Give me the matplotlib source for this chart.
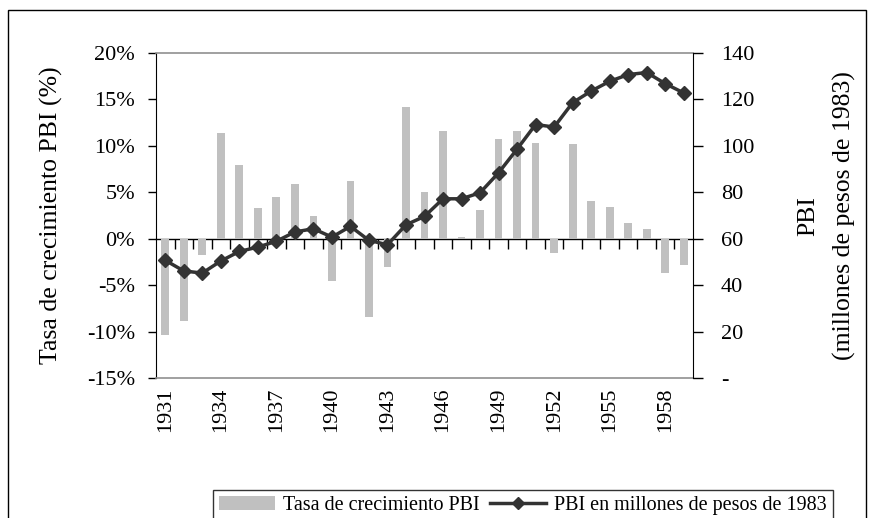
import matplotlib
matplotlib.use("Agg")
import matplotlib.pyplot as plt
from matplotlib.patches import Rectangle
from matplotlib.lines import Line2D
from matplotlib.patches import Patch

plt.rcParams['font.family'] = ['Liberation Serif', 'DejaVu Serif']

# Data
years = list(range(1931, 1960))
growth = [-10.4, -8.9, -1.8, 11.4, 7.9, 3.3, 4.45, 5.85, 2.4, -4.55,
          6.2, -8.45, -3.05, 14.15, 5.0, 11.55, 0.2, 3.05, 10.7, 11.55,
          10.3, -1.55, 10.2, 4.1, 3.4, 1.65, 1.0, -3.7, -2.85]
pbi = [50.7, 46.1, 45.2, 50.4, 54.5, 56.4, 58.9, 62.9, 64.3, 60.7,
       65.3, 59.3, 57.4, 66.0, 69.6, 77.2, 77.2, 79.8, 88.4, 98.6,
       109.2, 108.1, 118.6, 123.6, 127.8, 130.7, 131.6, 126.8, 122.8]
year_labels = years[::3]
left_ticks = [-15, -10, -5, 0, 5, 10, 15, 20]
right_ticks = [0, 20, 40, 60, 80, 100, 120, 140]

fig = plt.figure(figsize=(8.75, 5.18), dpi=100)
ax = fig.add_axes([156 / 875, 1 - 378 / 518, 537 / 875, 325 / 518])
ax.bar(years, growth, width=0.42, color='#C0C0C0', zorder=2)
ax.set_xlim(years[0] - 0.5, years[-1] + 0.5)
ax.set_ylim(-15, 20)
ax.set_yticks(left_ticks)
ax.set_yticklabels([f"{v}%" for v in left_ticks], fontsize=16)
ax.tick_params(axis='y', direction='out', length=6, width=1, pad=9)
ax.set_xticks(year_labels)
ax.set_xticklabels([str(y) for y in year_labels], rotation=90, fontsize=16)
ax.tick_params(axis='x', length=0, pad=7)
ax.set_ylabel("Tasa de crecimiento PBI (%)", fontsize=18.5, labelpad=17)
for s in ['top', 'bottom']:
    ax.spines[s].set_color('#909090')
    ax.spines[s].set_linewidth(1.2)
ax.spines['left'].set_color('black')
ax.spines['right'].set_visible(False)

# category axis crossing at zero
zero_pos = (0 - ax.get_ylim()[0]) / (ax.get_ylim()[1] - ax.get_ylim()[0])
sec = ax.secondary_xaxis(zero_pos)
sec.set_xticks([y + 0.5 for y in years[:-1]])
sec.set_xticklabels([])
sec.tick_params(direction='out', length=7, width=1, color='black')
sec.spines['bottom'].set_color('black')
sec.spines['bottom'].set_linewidth(1)

ax2 = ax.twinx()
ax2.plot(years, pbi, color='#333333', lw=2.5, marker='D', ms=7, zorder=3)
ax2.set_ylim(0, 140)
ax2.set_yticks(right_ticks)
ax2.set_yticklabels(['-' if v == 0 else str(v) for v in right_ticks], fontsize=16)
ax2.tick_params(axis='y', direction='out', length=7, width=1, pad=13)
for s in ['top', 'bottom', 'left']:
    ax2.spines[s].set_visible(False)
ax2.spines['right'].set_color('black')
ax2.set_ylabel("PBI\n(millones de pesos de 1983)", fontsize=18.5, labelpad=31,
               linespacing=1.75)

# legend
handles = [Patch(facecolor='#C0C0C0', edgecolor='none'),
           Line2D([], [], color='#333333', lw=2.5, marker='D', ms=6)]
leg = fig.legend(handles, ["Tasa de crecimiento PBI", "PBI en millones de pesos de 1983"],
                 loc='upper center', bbox_to_anchor=(523 / 875, 1 - 480 / 518),
                 ncol=2, fontsize=14.5, frameon=True, fancybox=False,
                 edgecolor='black', handlelength=2.8, columnspacing=0.5,
                 handletextpad=0.4, borderpad=0.3)
leg.get_frame().set_linewidth(1)

# outer chart border
fig.add_artist(Rectangle((8 / 875, -0.05), 858 / 875, 1.05 - 10 / 518,
                         transform=fig.transFigure, fill=False,
                         edgecolor='black', lw=1))

fig.savefig("out.png", dpi=100)
